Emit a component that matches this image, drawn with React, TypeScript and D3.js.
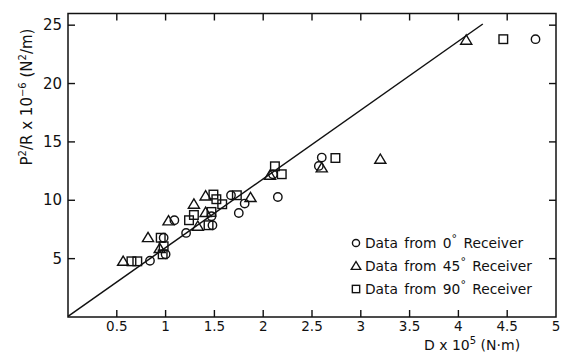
import React, { useEffect, useRef } from 'react';
import * as d3 from 'd3';

// values
const xTicks = [0.5, 1, 1.5, 2, 2.5, 3, 3.5, 4, 4.5, 5];
const xTickLabels = ['0.5', '1', '1.5', '2', '2.5', '3', '3.5', '4', '4.5', '5'];
const yTicks = [5, 10, 15, 20, 25];
const yTickLabels = ['5', '10', '15', '20', '25'];

const fitLine: [number, number][] = [[0, 0.05], [4.25, 25.1]];

const receiver0: [number, number][] = [
  [0.84, 4.82], [1.0, 5.37], [0.98, 6.79], [1.09, 8.29], [1.21, 7.2],
  [1.48, 7.86], [1.47, 8.63], [1.67, 10.43], [1.75, 8.91], [1.81, 9.72],
  [2.1, 12.23], [2.15, 10.28], [2.57, 12.94], [2.6, 13.66], [4.79, 23.8],
];
const receiver45: [number, number][] = [
  [0.565, 4.77], [0.82, 6.8], [0.94, 5.86], [1.03, 8.23], [1.29, 9.66],
  [1.33, 7.77], [1.41, 8.95], [1.41, 10.37], [1.87, 10.23], [2.07, 12.14],
  [2.6, 12.77], [3.2, 13.51], [4.08, 23.71],
];
const receiver90: [number, number][] = [
  [0.65, 4.77], [0.71, 4.77], [0.95, 6.79], [0.97, 5.37], [0.98, 6.06],
  [1.24, 8.29], [1.29, 8.74], [1.44, 7.86], [1.47, 9.0], [1.49, 10.49],
  [1.52, 10.09], [1.58, 9.66], [1.73, 10.43], [2.12, 12.91], [2.19, 12.23],
  [2.74, 13.62], [4.46, 23.8],
];

const legendItems = [
  { shape: 'circle', deg: '0' },
  { shape: 'triangle', deg: '45' },
  { shape: 'square', deg: '90' },
];

const FONT = '"DejaVu Sans", sans-serif';

function drawMarker(g: d3.Selection<SVGGElement, unknown, null, undefined>, shape: string, cx: number, cy: number, k = 1) {
  if (shape === 'circle') {
    g.append('circle').attr('cx', cx).attr('cy', cy).attr('r', 4.2 * k)
      .attr('fill', 'none').attr('stroke', '#111').attr('stroke-width', 1.4);
  } else if (shape === 'square') {
    const h = 4.3 * k;
    g.append('rect').attr('x', cx - h).attr('y', cy - h).attr('width', 2 * h).attr('height', 2 * h)
      .attr('fill', 'none').attr('stroke', '#111').attr('stroke-width', 1.4);
  } else {
    const s = 5.3 * k;
    g.append('path')
      .attr('d', `M${cx},${cy - s}L${cx + s * 1.05},${cy + s * 0.75}L${cx - s * 1.05},${cy + s * 0.75}Z`)
      .attr('fill', 'none').attr('stroke', '#111').attr('stroke-width', 1.4);
  }
}

export default function App() {
  const ref = useRef<SVGSVGElement>(null);

  useEffect(() => {
    const svg = d3.select(ref.current);
    svg.selectAll('*').remove();

    const left = 68, right = 556, top = 13.5, bottom = 317;
    const x = d3.scaleLinear().domain([0, 5]).range([left, right]);
    const y = d3.scaleLinear().domain([0, 26]).range([bottom, top]);

    const g = svg.append('g') as d3.Selection<SVGGElement, unknown, null, undefined>;

    // frame
    g.append('rect').attr('x', left).attr('y', top)
      .attr('width', right - left).attr('height', bottom - top)
      .attr('fill', 'none').attr('stroke', '#111').attr('stroke-width', 1.5);

    const tl = 7;
    // ticks on all four sides, pointing in
    xTicks.filter(t => t < 5).forEach(t => {
      g.append('line').attr('x1', x(t)).attr('x2', x(t)).attr('y1', bottom).attr('y2', bottom - tl)
        .attr('stroke', '#111').attr('stroke-width', 1.4);
      g.append('line').attr('x1', x(t)).attr('x2', x(t)).attr('y1', top).attr('y2', top + tl)
        .attr('stroke', '#111').attr('stroke-width', 1.4);
    });
    yTicks.forEach(t => {
      g.append('line').attr('x1', left).attr('x2', left + tl).attr('y1', y(t)).attr('y2', y(t))
        .attr('stroke', '#111').attr('stroke-width', 1.4);
      g.append('line').attr('x1', right).attr('x2', right - tl).attr('y1', y(t)).attr('y2', y(t))
        .attr('stroke', '#111').attr('stroke-width', 1.4);
    });

    // tick labels
    xTicks.forEach((t, i) => {
      g.append('text').attr('x', x(t)).attr('y', 331)
        .attr('text-anchor', 'middle').attr('font-family', FONT).attr('font-size', 13.5)
        .attr('fill', '#111').text(xTickLabels[i]);
    });
    yTicks.forEach((t, i) => {
      g.append('text').attr('x', 62).attr('y', y(t) + 5)
        .attr('text-anchor', 'end').attr('font-family', FONT).attr('font-size', 15)
        .attr('fill', '#111').text(yTickLabels[i]);
    });

    // axis titles
    const xt = g.append('text').attr('x', 424).attr('y', 350)
      .attr('font-family', FONT).attr('font-size', 14).attr('fill', '#111');
    xt.append('tspan').text('D x 10');
    xt.append('tspan').attr('dy', -6).attr('font-size', 10).text('5');
    xt.append('tspan').attr('dy', 6).text(' (N·m)');

    const yt = g.append('text').attr('transform', 'translate(32,97) rotate(-90)')
      .attr('text-anchor', 'middle').attr('font-family', FONT).attr('font-size', 15).attr('fill', '#111');
    yt.append('tspan').text('P');
    yt.append('tspan').attr('dy', -6).attr('font-size', 10).text('2');
    yt.append('tspan').attr('dy', 6).text('/R x 10');
    yt.append('tspan').attr('dy', -6).attr('font-size', 10).text('−6');
    yt.append('tspan').attr('dy', 6).text(' (N');
    yt.append('tspan').attr('dy', -6).attr('font-size', 10).text('2');
    yt.append('tspan').attr('dy', 6).text('/m)');

    // fitted line
    const line = d3.line<[number, number]>().x(d => x(d[0])).y(d => y(d[1]));
    g.append('path').attr('d', line(fitLine) || '')
      .attr('fill', 'none').attr('stroke', '#111').attr('stroke-width', 1.5);

    // data markers
    receiver0.forEach(d => drawMarker(g, 'circle', x(d[0]), y(d[1])));
    receiver45.forEach(d => drawMarker(g, 'triangle', x(d[0]), y(d[1])));
    receiver90.forEach(d => drawMarker(g, 'square', x(d[0]), y(d[1])));

    // legend
    legendItems.forEach((item, i) => {
      const ly = 243 + i * 23;
      drawMarker(g, item.shape, 356, ly, 0.85);
      const t = g.append('text').attr('x', 365).attr('y', ly + 5)
        .attr('font-family', FONT).attr('font-size', 13.8).attr('fill', '#111')
        .attr('word-spacing', 2);
      t.append('tspan').text(`Data from ${item.deg}`);
      t.append('tspan').attr('dy', -6).attr('font-size', 11).text('°');
      t.append('tspan').attr('dy', 6).text(' Receiver');
    });
  }, []);

  return (
    <svg ref={ref} width={567} height={358}
      style={{ position: 'absolute', left: 0, top: 0, background: 'white' }} />
  );
}
